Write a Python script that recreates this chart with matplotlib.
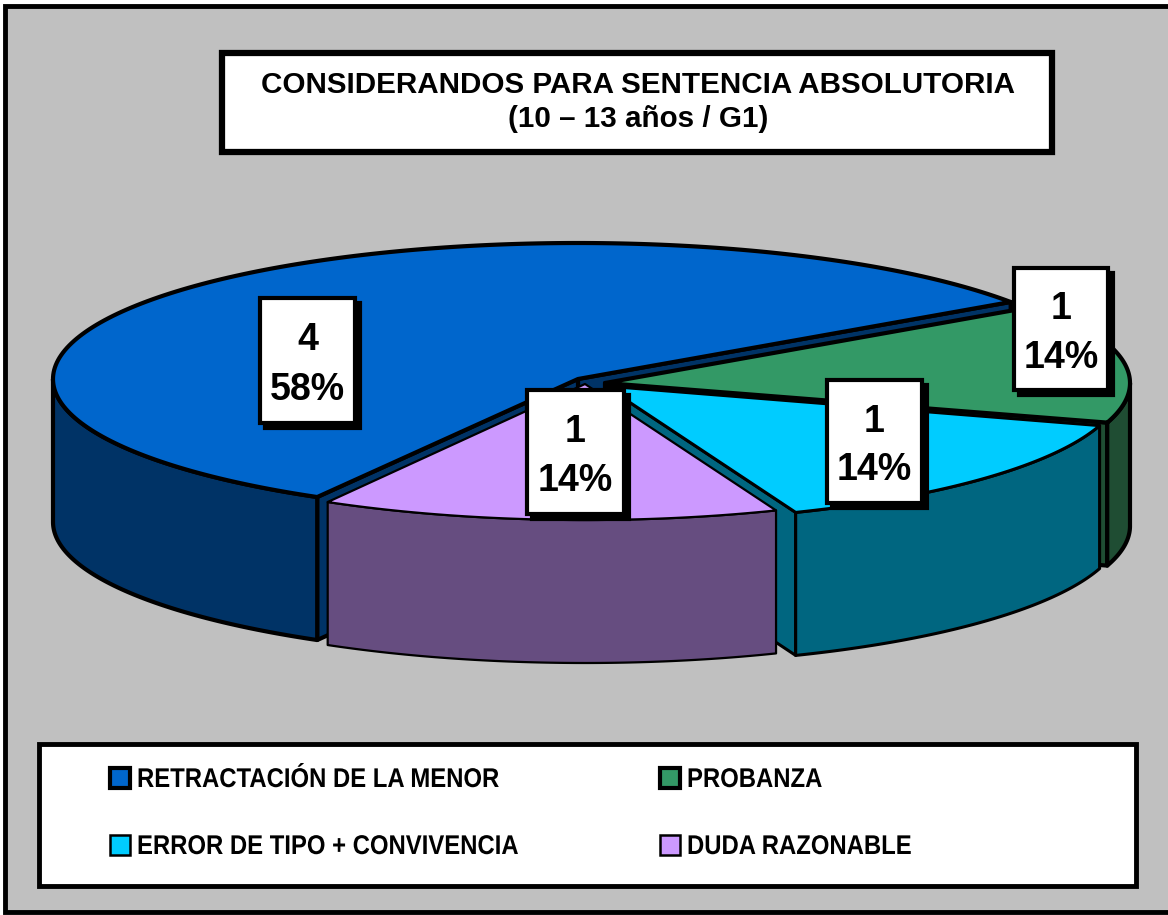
import numpy as np
from matplotlib import pyplot as plt
from matplotlib.patches import Polygon, Rectangle
from matplotlib.patheffects import AbstractPathEffect
from matplotlib.transforms import Affine2D

# data
categories = ['RETRACTACIÓN DE LA MENOR', 'PROBANZA', 'ERROR DE TIPO + CONVIVENCIA', 'DUDA RAZONABLE']
values = [4, 1, 1, 1]
pct_labels = ['58%', '14%', '14%', '14%']
title_lines = 'CONSIDERANDOS PARA SENTENCIA ABSOLUTORIA\n(10 – 13 años / G1)'

# styles
top_colors = ['#0066cc', '#339966', '#00ccff', '#cc99ff']
side_colors = ['#003366', '#1f4d33', '#006680', '#664d80']
edge_w = [3.0, 3.0, 2.2, 1.6]
ry, depth = 136, 143
rxs = [525, 525, 517, 518]
start = 34.5
centers = [(578, 379), (605, 383), (605, 386), (585, 384)]
boxes = [(260, 298, 95, 125), (1014, 268, 94, 122), (827, 380, 95, 123), (527, 390, 97, 124)]
swatches = [(110, 768), (660, 768), (110, 835), (660, 835)]

plt.rcParams['font.family'] = ['Liberation Sans', 'DejaVu Sans']
fig = plt.figure(figsize=(11.68, 9.15), dpi=100, facecolor='white')
ax = fig.add_axes([0, 0, 1, 1])
ax.set_xlim(0, 1168)
ax.set_ylim(915, 0)
ax.axis('off')

ax.add_patch(Rectangle((5, 6), 1175, 906, fc='#c0c0c0', ec='black', lw=3.5, zorder=0))


# the legend font in the original is squeezed sideways, no narrow font here
class Squeeze(AbstractPathEffect):
    def __init__(self, sx, x0):
        super().__init__()
        self.sx = sx
        self.x0 = x0

    def draw_path(self, renderer, gc, tpath, affine, rgbFace=None):
        a = affine + Affine2D().translate(-self.x0, 0).scale(self.sx, 1).translate(self.x0, 0)
        renderer.draw_path(gc, tpath, a, rgbFace)


def pt(c, rx, t, dy=0):
    return (c[0] + rx * np.cos(t), c[1] - ry * np.sin(t) + dy)


# pie slices, going clockwise from the big one
z = 1
a_high = np.radians(start + 360 * values[0] / sum(values))
for i, v in enumerate(values):
    a_low = a_high - np.radians(360 * v / sum(values))
    c = centers[i]
    rx = rxs[i]
    ec = 'black'
    for a, vis in [(a_low, np.cos(a_low) > 0), (a_high, np.cos(a_high) < 0)]:
        if vis:
            face = [c, pt(c, rx, a), pt(c, rx, a, depth), (c[0], c[1] + depth)]
            ax.add_patch(Polygon(face, fc=side_colors[i], ec=ec, lw=edge_w[i], joinstyle='round', zorder=z))
            z += 1
    # outer wall, only the front half can be seen
    if i == 0:
        lo, hi = np.pi, a_high
    else:
        lo, hi = a_low, min(a_high, 0)
    t = np.linspace(lo, hi, 100)
    wall = [pt(c, rx, q) for q in t] + [pt(c, rx, q, depth) for q in t[::-1]]
    ax.add_patch(Polygon(wall, fc=side_colors[i], ec=ec, lw=edge_w[i], joinstyle='round', zorder=z))
    z += 1
    t = np.linspace(a_low, a_high, 200)
    top = [c] + [pt(c, rx, q) for q in t]
    ax.add_patch(Polygon(top, fc=top_colors[i], ec=ec, lw=edge_w[i], joinstyle='round', zorder=z))
    z += 1
    a_high = a_low

# value labels
for i, (x, y, w, h) in enumerate(boxes):
    ax.add_patch(Rectangle((x + 5, y + 5), w, h, fc='black', ec='black', lw=3, zorder=50))
    ax.add_patch(Rectangle((x, y), w, h, fc='white', ec='black', lw=3, zorder=51))
    ax.text(x + w / 2, y + h * 0.34, str(values[i]), ha='center', va='center', fontsize=27, fontweight='bold', zorder=52)
    ax.text(x + w / 2, y + h * 0.735, pct_labels[i], ha='center', va='center', fontsize=27, fontweight='bold', zorder=52)

# title
ax.add_patch(Rectangle((222, 53), 830, 99, fc='white', ec='black', lw=4.5, zorder=60))
ax.text(638, 102, title_lines, ha='center', va='center', fontsize=21.3, fontweight='bold', linespacing=1.28, zorder=61)

# legend
ax.add_patch(Rectangle((39, 744), 1097, 142, fc='white', ec='black', lw=3.5, zorder=60))
for i, name in enumerate(categories):
    x, y = swatches[i]
    ax.add_patch(Rectangle((x, y), 20, 20, fc=top_colors[i], ec='black', lw=edge_w[i] if i < 2 else 1.8, zorder=61))
    ax.text(x + 27, y + 12, name, ha='left', va='center', fontsize=19.5, fontweight='bold', zorder=61,
            path_effects=[Squeeze(0.882, x + 27)])

fig.savefig('out.png', dpi=100)
